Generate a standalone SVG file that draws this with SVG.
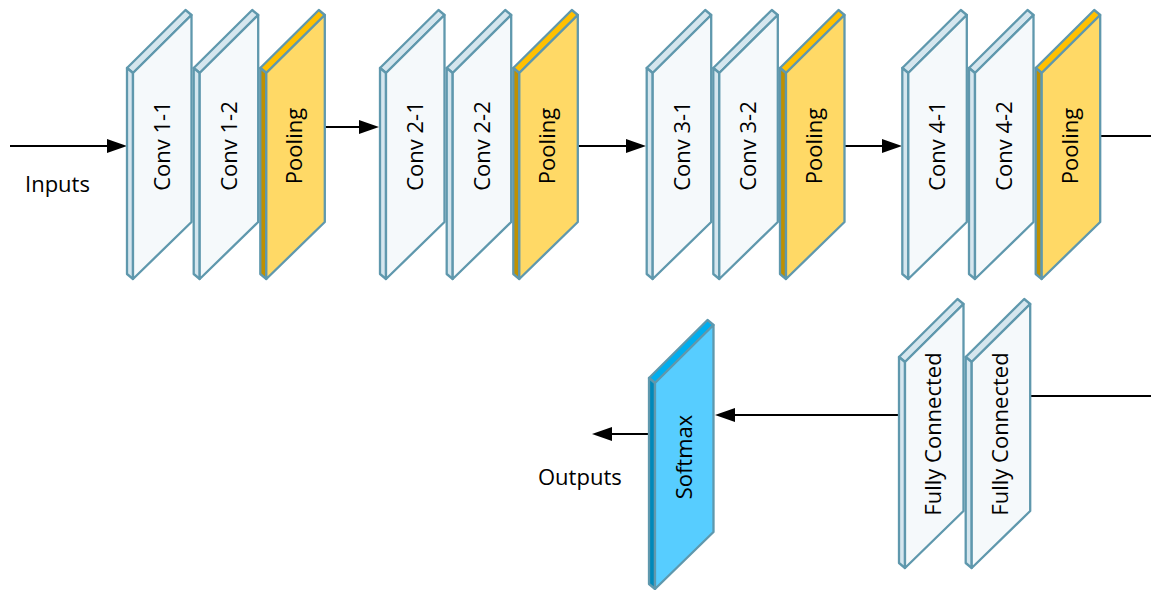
<svg xmlns="http://www.w3.org/2000/svg" width="1151" height="590" viewBox="0 0 1151 590">
  <defs>
    <style>
      .edge { stroke: #5F98AD; stroke-width: 2.3; stroke-linejoin: round; }
      .face { fill: var(--face); }
      .top { fill: var(--top); }
      .side { fill: var(--side); }
      .conv { --face: #F5F9FB; --top: #D5E6EE; --side: #D5E6EE; }
      .pool { --face: #FFD966; --top: #FFC000; --side: #BF9000; }
      .soft { --face: #57CDFF; --top: #00AEEF; --side: #0089BA; }
      .label { font-family: "Open Sans", "Liberation Sans", sans-serif; font-size: 22px; fill: #000; }
      .wire { stroke: #000; stroke-width: 2; fill: none; }
    </style>
    <!-- one slab: front face with a thin top and left bevel -->
    <g id="slab">
      <polygon class="top edge" points="-6,-5 52.5,-63 58.5,-58 0,0"/>
      <polygon class="side edge" points="-6,-5 0,0 0,206 -6,201"/>
      <polygon class="face edge" points="0,0 58.5,-58 58.5,149 0,206"/>
    </g>
    <marker id="head" viewBox="0 0 20 14" refX="10" refY="7" markerWidth="20" markerHeight="14" markerUnits="userSpaceOnUse" orient="auto">
      <path d="M0,0 L20,7 L0,14 Z" fill="#000"/>
    </marker>
  </defs>

  <!-- connectors -->
  <g id="connectors">
    <line class="wire" x1="10" y1="146" x2="117" y2="146" marker-end="url(#head)"/>
    <line class="wire" x1="324" y1="127" x2="369" y2="127" marker-end="url(#head)"/>
    <line class="wire" x1="572" y1="146" x2="636" y2="146" marker-end="url(#head)"/>
    <line class="wire" x1="843" y1="146" x2="892" y2="146" marker-end="url(#head)"/>
    <line class="wire" x1="1100" y1="136" x2="1151" y2="136"/>
    <line class="wire" x1="1031" y1="396" x2="1151" y2="396"/>
    <line class="wire" x1="905" y1="415" x2="725" y2="415" marker-end="url(#head)"/>
    <line class="wire" x1="650" y1="434" x2="602" y2="434" marker-end="url(#head)"/>
  </g>

  <!-- top row: convolution blocks -->
  <g id="conv1-1" class="conv" transform="translate(133,73)">
    <use href="#slab"/>
    <text class="label" transform="translate(37,73) rotate(-90)" text-anchor="middle">Conv 1-1</text>
  </g>
  <g id="conv1-2" class="conv" transform="translate(199.7,73)">
    <use href="#slab"/>
    <text class="label" transform="translate(37,73) rotate(-90)" text-anchor="middle">Conv 1-2</text>
  </g>
  <g id="pool1" class="pool" transform="translate(266.3,73)">
    <use href="#slab"/>
    <text class="label" transform="translate(36,73) rotate(-90)" text-anchor="middle">Pooling</text>
  </g>

  <g id="conv2-1" class="conv" transform="translate(386,73)">
    <use href="#slab"/>
    <text class="label" transform="translate(37,73) rotate(-90)" text-anchor="middle">Conv 2-1</text>
  </g>
  <g id="conv2-2" class="conv" transform="translate(452.7,73)">
    <use href="#slab"/>
    <text class="label" transform="translate(37,73) rotate(-90)" text-anchor="middle">Conv 2-2</text>
  </g>
  <g id="pool2" class="pool" transform="translate(519.3,73)">
    <use href="#slab"/>
    <text class="label" transform="translate(36,73) rotate(-90)" text-anchor="middle">Pooling</text>
  </g>

  <g id="conv3-1" class="conv" transform="translate(652.7,73)">
    <use href="#slab"/>
    <text class="label" transform="translate(37,73) rotate(-90)" text-anchor="middle">Conv 3-1</text>
  </g>
  <g id="conv3-2" class="conv" transform="translate(719.3,73)">
    <use href="#slab"/>
    <text class="label" transform="translate(37,73) rotate(-90)" text-anchor="middle">Conv 3-2</text>
  </g>
  <g id="pool3" class="pool" transform="translate(786,73)">
    <use href="#slab"/>
    <text class="label" transform="translate(36,73) rotate(-90)" text-anchor="middle">Pooling</text>
  </g>

  <g id="conv4-1" class="conv" transform="translate(908.3,73)">
    <use href="#slab"/>
    <text class="label" transform="translate(37,73) rotate(-90)" text-anchor="middle">Conv 4-1</text>
  </g>
  <g id="conv4-2" class="conv" transform="translate(975,73)">
    <use href="#slab"/>
    <text class="label" transform="translate(37,73) rotate(-90)" text-anchor="middle">Conv 4-2</text>
  </g>
  <g id="pool4" class="pool" transform="translate(1041.7,73)">
    <use href="#slab"/>
    <text class="label" transform="translate(36,73) rotate(-90)" text-anchor="middle">Pooling</text>
  </g>

  <!-- bottom row: classifier -->
  <g id="fc1" class="conv" transform="translate(905,362)">
    <use href="#slab"/>
    <text class="label" transform="translate(36,72) rotate(-90)" text-anchor="middle">Fully Connected</text>
  </g>
  <g id="fc2" class="conv" transform="translate(971.7,362)">
    <use href="#slab"/>
    <text class="label" transform="translate(36,72) rotate(-90)" text-anchor="middle">Fully Connected</text>
  </g>
  <g id="softmax" class="soft" transform="translate(655,383)">
    <use href="#slab"/>
    <text class="label" transform="translate(37,74) rotate(-90)" text-anchor="middle">Softmax</text>
  </g>

  <!-- input / output captions -->
  <g id="inputs">
    <text class="label" x="25" y="192">Inputs</text>
  </g>
  <g id="outputs">
    <text class="label" x="538" y="485">Outputs</text>
  </g>
</svg>
